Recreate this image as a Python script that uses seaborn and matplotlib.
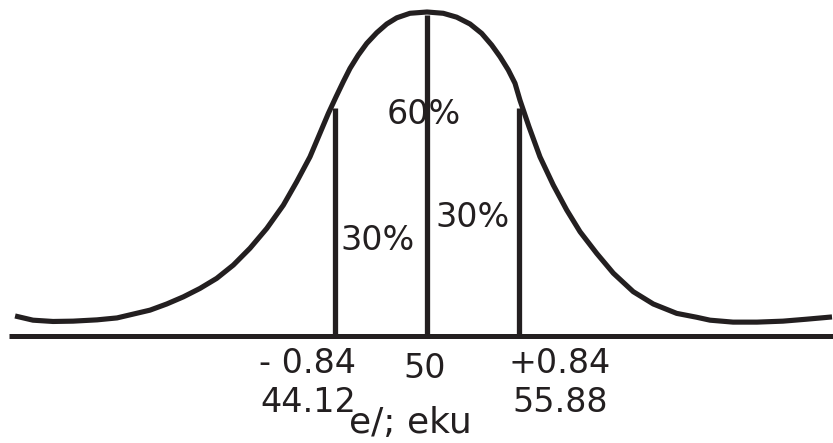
import matplotlib
matplotlib.use("Agg")
import matplotlib.pyplot as plt
import seaborn as sns
import pandas as pd

# Normal curve traced as (z, relative height) points; peak height = 1
curve_z = [-3.745, -3.582, -3.400, -3.218, -3.000, -2.818, -2.518, -2.366,
           -2.215, -2.064, -1.912, -1.761, -1.609, -1.457, -1.306, -1.185,
           -1.064, -0.973, -0.897, -0.826, -0.761, -0.700, -0.625, -0.548,
           -0.457, -0.366, -0.275, -0.155, 0.0, 0.148, 0.270, 0.391, 0.497,
           0.588, 0.664, 0.739, 0.800, 0.845, 0.927, 1.027, 1.148, 1.270,
           1.391, 1.543, 1.694, 1.875, 2.057, 2.270, 2.452, 2.573, 2.782,
           3.000, 3.236, 3.450, 3.682]
curve_h = [0.062, 0.049, 0.045, 0.046, 0.050, 0.056, 0.080, 0.099,
           0.121, 0.147, 0.178, 0.219, 0.271, 0.332, 0.404, 0.476,
           0.553, 0.626, 0.687, 0.739, 0.785, 0.826, 0.867, 0.903,
           0.936, 0.963, 0.982, 0.996, 1.0, 0.996, 0.984, 0.963, 0.934,
           0.898, 0.862, 0.821, 0.780, 0.728, 0.646, 0.553, 0.466, 0.389,
           0.322, 0.255, 0.194, 0.137, 0.099, 0.070, 0.058, 0.049, 0.043,
           0.043, 0.046, 0.052, 0.059]

# Cut points (z) and the heights of their ordinates
cut_z = [-0.84, 0.0, 0.84]
cut_tops = [0.704, 0.991, 0.704]

# Labels under the baseline
z_labels = ["- 0.84", "50", "+0.84"]
score_labels = ["44.12", "", "55.88"]
axis_title = "e/; eku"

# Area percentages
area_labels = ["60%", "30%", "30%"]

INK = "#231f20"

sns.set_style("white")
plt.rcParams["font.family"] = ["DejaVu Sans"]

fig = plt.figure(figsize=(8.33, 4.43), dpi=100)
ax = fig.add_axes([0, 0, 1, 1])

df = pd.DataFrame({"z": curve_z, "h": curve_h})
sns.lineplot(data=df, x="z", y="h", sort=False, color=INK, linewidth=3.7,
             ax=ax, solid_capstyle="butt", solid_joinstyle="round")

# Ordinates at the cut points
ax.vlines(cut_z, 0, cut_tops, color=INK, linewidth=3.8, capstyle="butt")

# Baseline
ax.hlines(0, -3.80, 3.70, color=INK, linewidth=3.6, capstyle="butt")

fs = 24
# Area labels
ax.text(-0.027, 0.654, area_labels[0], ha="center", va="baseline",
        fontsize=fs, color=INK)
ax.text(-0.445, 0.265, area_labels[1], ha="center", va="baseline",
        fontsize=fs, color=INK)
ax.text(0.418, 0.336, area_labels[2], ha="center", va="baseline",
        fontsize=fs, color=INK)

# z labels and scores below the baseline
label_x = [-1.082, -0.018, 1.209]
z_base = [-0.114, -0.130, -0.114]
for x, lab, yb in zip(label_x, z_labels, z_base):
    ax.text(x, yb, lab, ha="center", va="baseline", fontsize=fs, color=INK)
for x, lab in zip(label_x, score_labels):
    if lab:
        ax.text(x, -0.235, lab, ha="center", va="baseline", fontsize=fs,
                color=INK)

ax.text(-0.155, -0.299, axis_title, ha="center", va="baseline", fontsize=26,
        color=INK)

ax.set_xlim(-3.882, 3.691)
ax.set_ylim(-0.330, 1.037)
ax.set_axis_off()

fig.savefig("out.png", dpi=100, facecolor="white")
